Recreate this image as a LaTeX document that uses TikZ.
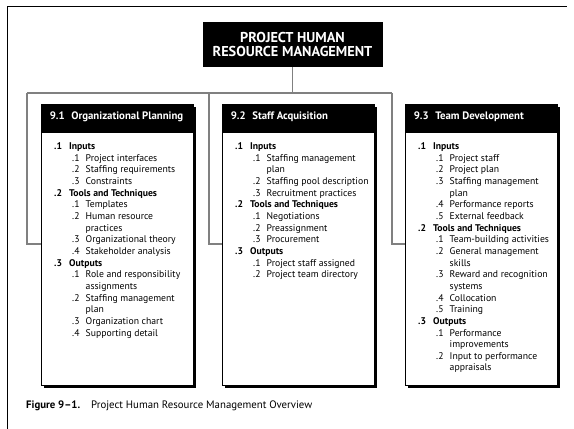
\documentclass[tikz,border=0pt]{standalone}
\usepackage{fontspec}
\setmainfont{PT Sans}
\usetikzlibrary{calc}
\definecolor{connGray}{RGB}{128,128,128}
\newcommand\lvA[2]{\makebox[15pt][l]{\bfseries #1}\textbf{#2}}
\newcommand\lvB[2]{\hspace*{18pt}\makebox[13.5pt][l]{#1}#2}
\newcommand\lvC[1]{\hspace*{31.5pt}#1}
\begin{document}
\begin{tikzpicture}[x=1pt,y=-1pt,
 conn/.style={draw=connGray,line width=1.1pt},
 procbox/.style={draw=black,fill=white,line width=0.8pt,minimum width=152pt,minimum height=281pt,anchor=north west,inner sep=0pt},
 headtext/.style={text=white,font=\fontsize{10.8}{12}\selectfont\bfseries,anchor=west,inner sep=0pt},
 bodytext/.style={anchor=north west,inner sep=0pt,align=left,font=\fontsize{9.7}{11.65}\selectfont},
]
\useasboundingbox (0,0) rectangle (574,429);
\draw[line width=1pt] (7,429) -- (7,6) -- (567,6);

\node[fill=black,text=white,font=\fontsize{14.3}{14.3}\selectfont\bfseries,align=center,minimum width=180pt,minimum height=45pt,inner sep=0pt] (title) at (292.5,44.5) {PROJECT HUMAN\\RESOURCE MANAGEMENT};

% shadows
\fill (44.2,107.2) rectangle +(152,281);
\fill (225.2,107.2) rectangle +(152,281);
\fill (408.2,107.2) rectangle +(152,281);

\node[procbox] (b1) at (41,104) {};
\node[procbox] (b2) at (222,104) {};
\node[procbox] (b3) at (405,104) {};
\fill (b1.north west) rectangle ($(b1.north east)+(0,29)$);
\fill (b2.north west) rectangle ($(b2.north east)+(0,29)$);
\fill (b3.north west) rectangle ($(b3.north east)+(0,29)$);

\coordinate (hl) at (27,93);
\coordinate (hr) at (392,93);
\coordinate (k1) at (27,244);
\coordinate (k2) at (209,244);
\coordinate (k3) at (392,244);
\draw[conn] (title.south) -- (title.south |- hl);
\draw[conn] (hl) -- (hr);
\draw[conn] (hl) -- (k1) -- (k1 -| b1.west);
\draw[conn] (hl -| k2) -- (k2) -- (k2 -| b2.west);
\draw[conn] (hr) -- (k3) -- (k3 -| b3.west);

\node[headtext] (h1) at ($(b1.north west)+(8.6,12.5)$) {\makebox[21.5pt][l]{9.1}Organizational Planning};
\node[headtext] (h2) at ($(b2.north west)+(8.6,12.5)$) {\makebox[21.5pt][l]{9.2}Staff Acquisition};
\node[headtext] (h3) at ($(b3.north west)+(8.6,12.5)$) {\makebox[21.5pt][l]{9.3}Team Development};

\node[bodytext] (t1) at ($(b1.north west)+(13,38.5)$) {%
\lvA{.1}{Inputs}\\
\lvB{.1}{Project interfaces}\\
\lvB{.2}{Staffing requirements}\\
\lvB{.3}{Constraints}\\
\lvA{.2}{Tools and Techniques}\\
\lvB{.1}{Templates}\\
\lvB{.2}{Human resource}\\
\lvC{practices}\\
\lvB{.3}{Organizational theory}\\
\lvB{.4}{Stakeholder analysis}\\
\lvA{.3}{Outputs}\\
\lvB{.1}{Role and responsibility}\\
\lvC{assignments}\\
\lvB{.2}{Staffing management}\\
\lvC{plan}\\
\lvB{.3}{Organization chart}\\
\lvB{.4}{Supporting detail}};

\node[bodytext] (t2) at ($(b2.north west)+(13,38.5)$) {%
\lvA{.1}{Inputs}\\
\lvB{.1}{Staffing management}\\
\lvC{plan}\\
\lvB{.2}{Staffing pool description}\\
\lvB{.3}{Recruitment practices}\\
\lvA{.2}{Tools and Techniques}\\
\lvB{.1}{Negotiations}\\
\lvB{.2}{Preassignment}\\
\lvB{.3}{Procurement}\\
\lvA{.3}{Outputs}\\
\lvB{.1}{Project staff assigned}\\
\lvB{.2}{Project team directory}};

\node[bodytext] (t3) at ($(b3.north west)+(13,38.5)$) {%
\lvA{.1}{Inputs}\\
\lvB{.1}{Project staff}\\
\lvB{.2}{Project plan}\\
\lvB{.3}{Staffing management}\\
\lvC{plan}\\
\lvB{.4}{Performance reports}\\
\lvB{.5}{External feedback}\\
\lvA{.2}{Tools and Techniques}\\
\lvB{.1}{Team-building activities}\\
\lvB{.2}{General management}\\
\lvC{skills}\\
\lvB{.3}{Reward and recognition}\\
\lvC{systems}\\
\lvB{.4}{Collocation}\\
\lvB{.5}{Training}\\
\lvA{.3}{Outputs}\\
\lvB{.1}{Performance}\\
\lvC{improvements}\\
\lvB{.2}{Input to performance}\\
\lvC{appraisals}};

\node[anchor=west,inner sep=0pt,font=\fontsize{10.8}{12}\selectfont] (cap) at (26,406) {\makebox[65pt][l]{\textbf{Figure 9–1.}}Project Human Resource Management Overview};
\end{tikzpicture}
\end{document}
